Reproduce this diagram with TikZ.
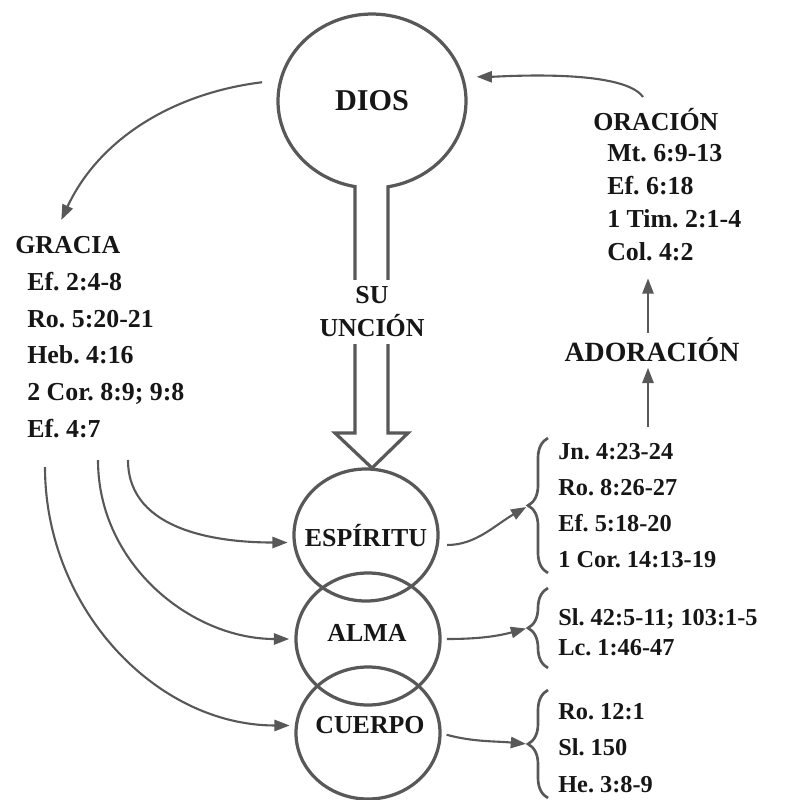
\documentclass[tikz,border=0pt]{standalone}
\usepackage{fontspec}
\setmainfont{Liberation Serif}
\usetikzlibrary{arrows.meta,shapes.geometric,decorations.pathreplacing}
\definecolor{ink}{RGB}{88,88,88}
\definecolor{txtc}{RGB}{22,22,22}
\frenchspacing

\begin{document}
\begin{tikzpicture}[
  x=0.025cm, y=-0.025cm,
  font=\bfseries\fontsize{18.4}{23}\selectfont,
  lbl/.style={inner sep=0pt, text height=12pt, text depth=0pt, text=txtc},
  refs/.style={inner sep=0pt, align=left, anchor=west, text=txtc},
  ring/.style={ellipse, draw=ink, line width=2.3pt, minimum width=3.6cm, minimum height=3.3cm, inner sep=0pt, outer sep=0pt},
  stem/.style={draw=ink, line width=2.3pt, line join=miter},
  arr/.style={-{Triangle[length=3.8mm, width=2.8mm]}, draw=ink, line width=1.5pt},
  brc/.style={draw=ink, line width=1.9pt, decorate, decoration={brace, amplitude=0.5cm}}
]
\useasboundingbox (0,0) rectangle (798,800);

\node[ellipse, inner sep=0pt, outer sep=0pt, minimum width=4.7cm, minimum height=4.35cm, text=txtc, font=\bfseries\fontsize{21.5}{26}\selectfont] (dios) at (372,101) {DIOS};
\draw[stem] (355,433) -- (355,186.6) arc[start angle=100.42, end angle=440.2, x radius=94, y radius=87] -- (388,433) -- (408,433) -- (372,468) -- (335,433) -- cycle;
\node[fill=white, inner xsep=2pt, inner ysep=5pt, align=center, text=txtc, font=\bfseries\fontsize{18.4}{23.5}\selectfont] (uncion) at (372,312) {SU\\UNCIÓN};

\node[ring] (esp) at (366,535) {};
\node[ring] (alma) at (368,639) {};
\node[ring] (cuerpo) at (368,733) {};
\node[lbl] (esptxt) at (366,538) {ESPÍRITU};
\node[lbl] (almatxt) at (367,633) {ALMA};
\node[lbl] (cuerpotxt) at (370,725) {CUERPO};

\node[lbl, anchor=west] (gracia) at (15,245) {GRACIA};
\node[refs, font=\bfseries\fontsize{18.4}{26}\selectfont] (gref) at (27,355) {Ef. 2:4-8\\Ro. 5:20-21\\Heb. 4:16\\2 Cor. 8:9; 9:8\\Ef. 4:7};
\node[lbl, anchor=west] (orac) at (593,122) {ORACIÓN};
\node[refs, font=\bfseries\fontsize{18.4}{23.5}\selectfont] (oref) at (607,203) {Mt. 6:9-13\\Ef. 6:18\\1 Tim. 2:1-4\\Col. 4:2};
\node[lbl, text height=13pt, font=\bfseries\fontsize{19.8}{24}\selectfont] (ador) at (652,352) {ADORACIÓN};
\node[refs, font=\bfseries\fontsize{17.3}{25.6}\selectfont] (r1) at (558,506) {Jn. 4:23-24\\Ro. 8:26-27\\Ef. 5:18-20\\1 Cor. 14:13-19};
\node[refs, font=\bfseries\fontsize{17.3}{21.3}\selectfont] (r2) at (558,632) {Sl. 42:5-11; 103:1-5\\Lc. 1:46-47};
\node[refs, font=\bfseries\fontsize{17.3}{26}\selectfont] (r3) at (558,748) {Ro. 12:1\\Sl. 150\\He. 3:8-9};

\coordinate (g1) at (128,460);
\coordinate (g2) at (98,460);
\coordinate (g3) at (45,467);
\coordinate (b1) at (528,506);
\coordinate (b2) at (528,628);
\coordinate (b3) at (528,744);
\coordinate (up) at (648,427);
\coordinate (o1) at (643,97);

\draw[brc] (548,573) -- (548,438);
\draw[brc] (548,668) -- (548,588);
\draw[brc] (548,798) -- (548,690);

\draw[arr, shorten <=0.47cm, shorten >=0.45cm] (dios.167) to[out=187, in=65] ([xshift=-10pt]gracia.north);
\draw[arr, shorten >=0.17cm] (g1) to[out=-90, in=180] (esp.186);
\draw[arr, shorten >=0.17cm] (g2) to[out=-90, in=180] (alma.west);
\draw[arr, shorten >=0.17cm] (g3) to[out=-90, in=180] (cuerpo.174);
\draw[arr, shorten <=0.25cm, shorten >=0.05cm] (esp.-8) to[out=0, in=210] (b1);
\draw[arr, shorten <=0.17cm, shorten >=0.05cm] (alma.east) to[out=0, in=195] (b2);
\draw[arr, shorten <=0.17cm, shorten >=0.05cm] (cuerpo.east) to[out=-15, in=175] (b3);
\draw[arr, shorten >=0.16cm] (up) -- (up |- ador.south);
\draw[arr, shorten <=0.25cm, shorten >=0.42cm] (up |- ador.north) -- (up |- oref.south);
\draw[arr, shorten >=0.36cm] (o1) to[out=125, in=0, looseness=0.5] (dios.15);

\end{tikzpicture}
\end{document}
